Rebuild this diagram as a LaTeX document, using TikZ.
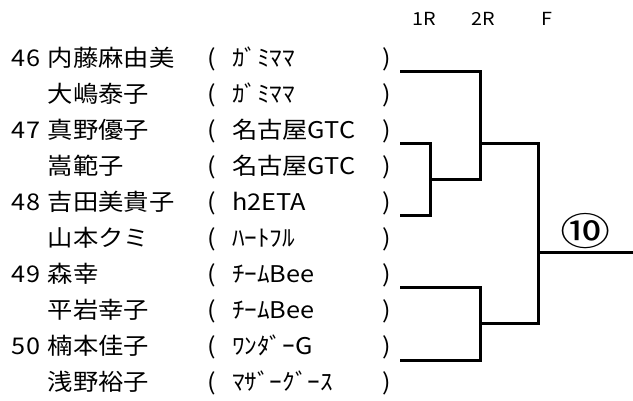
\documentclass[tikz,border=0pt]{standalone}
\usepackage{fontspec}
\setmainfont{Noto Sans CJK JP}[FakeStretch=1.1]
\begin{document}
\begin{tikzpicture}[x=1pt,y=-1pt,
  txt/.style={anchor=base west,inner sep=0pt,outer sep=0pt,font=\fontsize{23}{23}\selectfont},
  hdr/.style={anchor=base west,inner sep=0pt,font=\fontsize{18}{18}\selectfont},
  br/.style={line width=3pt,line join=miter}]
\useasboundingbox (0,0) rectangle (633,400);
% headers
\node[hdr] (h1) at (412,25) {1R};
\node[hdr] (h2) at (471,25) {2R};
\node[hdr] (h3) at (541,25) {F};
% rows
\foreach \i/\num/\name/\team in {
  1/46/内藤麻由美/ｶﾞﾐﾏﾏ,
  2//大嶋泰子/ｶﾞﾐﾏﾏ,
  3/47/真野優子/名古屋GTC,
  4//嵩範子/名古屋GTC,
  5/48/吉田美貴子/h2ETA,
  6//山本クミ/ﾊｰﾄﾌﾙ,
  7/49/森幸/ﾁｰﾑBee,
  8//平岩幸子/ﾁｰﾑBee,
  9/50/楠本佳子/ﾜﾝﾀﾞｰG,
  10//浅野裕子/ﾏｻﾞｰｸﾞｰｽ}{
  \pgfmathsetmacro{\yb}{66.5+36*(\i-1)}
  \node[txt] (n\i) at (12,\yb) {\num};
  \node[txt] (p\i) at (48,\yb) {\name};
  \node[txt] (l\i) at (207,\yb) {(};
  \node[txt] (t\i) at (232,\yb) {\team};
  \node[txt] (r\i) at (382,\yb) {)};
}
% bracket coordinates
\coordinate (s1) at (400,71.3);
\coordinate (s3) at (400,143.3);
\coordinate (s5) at (400,215.7);
\coordinate (s7) at (400,287.3);
\coordinate (s9) at (400,360);
\coordinate (j1) at (430,179.5);
\coordinate (j2) at (480,143.3);
\coordinate (j3) at (480,323.7);
\coordinate (k1) at (538.7,143.3);
\coordinate (k2) at (538.7,323.7);
\coordinate (f0) at (538.7,252.5);
\coordinate (fe) at (633,252.5);
% first round
\draw[br] (s3) -| (j1) |- (s5);
% second round
\draw[br] (s1) -| (j2) |- (j1);
\draw[br] (s7) -| (j3) |- (s9);
% final
\draw[br] (j2) -- (k1) -- (k2) -- (j3);
\draw[br] (f0) -- (fe);
\node[inner sep=0pt,font=\fontsize{38}{38}\selectfont] (w) at (586,231) {\scalebox{1.2}[1]{⑩}};
\end{tikzpicture}
\end{document}
